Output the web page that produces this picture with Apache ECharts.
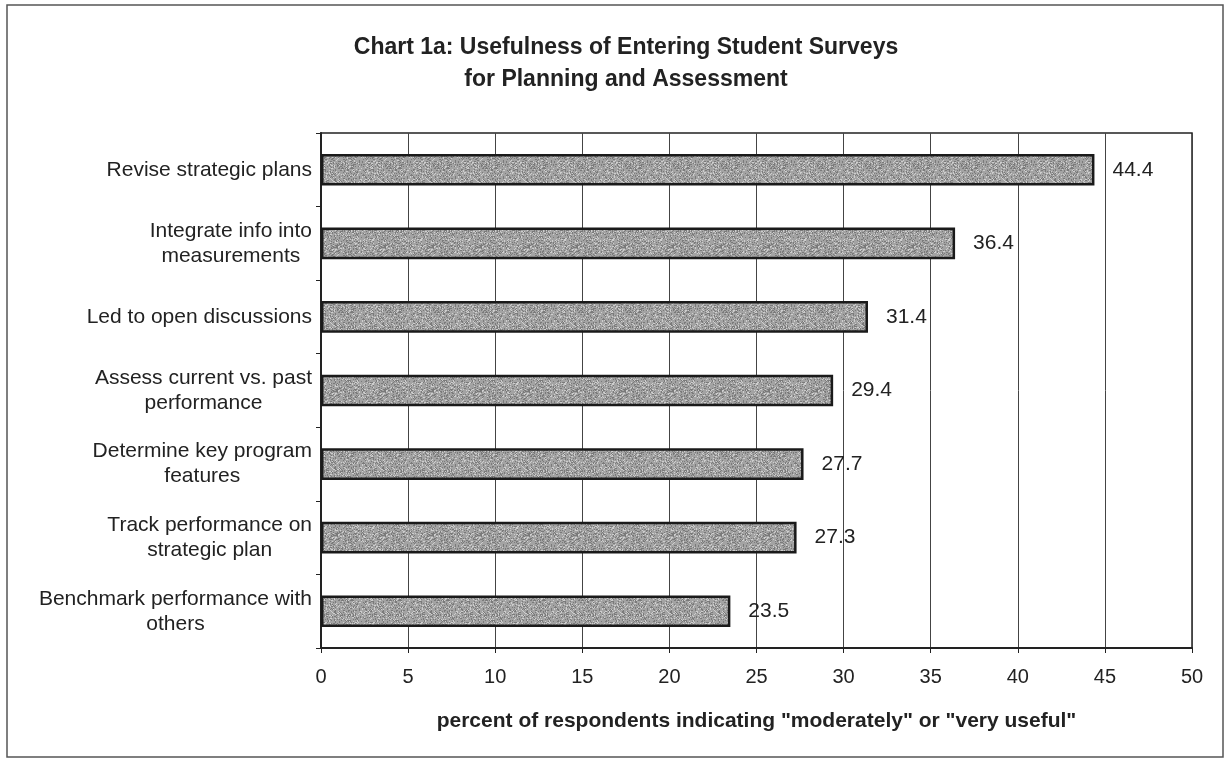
<!DOCTYPE html>
<html>
<head>
<meta charset="utf-8">
<script src="https://cdn.jsdelivr.net/npm/echarts@6/dist/echarts.min.js"></script>
<style>
  html, body { margin: 0; padding: 0; background: #ffffff; }
  #chart { width: 1228px; height: 761px; }
</style>
</head>
<body>
<div id="chart"></div>
<script>
// Survey items, listed bottom to top as the category axis draws them
const categories = [
  'Benchmark performance with\nothers',
  'Track performance on\nstrategic plan',
  'Determine key program\nfeatures',
  'Assess current vs. past\nperformance',
  'Led to open discussions',
  'Integrate info into\nmeasurements',
  'Revise strategic plans'
];
// Percent of respondents rating each use "moderately" or "very useful"
const percentUseful = [23.5, 27.3, 27.7, 29.4, 31.4, 36.4, 44.4];
// Value axis ticks
const xTicks = [0, 5, 10, 15, 20, 25, 30, 35, 40, 45, 50];

const titleLines = ['Chart 1a: Usefulness of Entering Student Surveys', 'for Planning and Assessment'];
const axisTitle = 'percent of respondents indicating "moderately" or "very useful"';

// Stippled grey fill for the bars, built once on a small tile
function stippleTile() {
  const c = document.createElement('canvas');
  c.width = 48; c.height = 48;
  const g = c.getContext('2d');
  g.fillStyle = '#a3a3a3';
  g.fillRect(0, 0, 48, 48);
  for (let y = 0; y < 48; y++) {
    for (let x = 0; x < 48; x++) {
      const h = Math.abs(Math.sin(x * 12.9898 + y * 78.233) * 43758.5453) % 1;
      if (h < 0.22) { g.fillStyle = 'rgba(90,90,90,0.55)'; g.fillRect(x, y, 1, 1); }
      else if (h > 0.86) { g.fillStyle = 'rgba(235,235,235,0.6)'; g.fillRect(x, y, 1, 1); }
    }
  }
  return c;
}

const chart = echarts.init(document.getElementById('chart'), null, { renderer: 'canvas' });

const font = 'Liberation Sans, Arial, sans-serif';

chart.setOption({
  animation: false,
  backgroundColor: '#ffffff',
  title: {
    text: titleLines.join('\n'),
    left: 621,
    textAlign: 'center',
    top: 27,
    textStyle: {
      fontFamily: font,
      fontSize: 23,
      fontWeight: 'bold',
      color: '#222',
      lineHeight: 32
    }
  },
  graphic: [{
    type: 'rect',
    shape: { x: 7, y: 5, width: 1216, height: 752 },
    style: { fill: 'none', stroke: '#555', lineWidth: 1.5 },
    silent: true,
    z: -1
  }],
  grid: {
    left: 321,
    right: 36,
    top: 133,
    bottom: 113,
    show: true,
    borderColor: '#222',
    borderWidth: 1.5,
    backgroundColor: 'transparent'
  },
  xAxis: {
    type: 'value',
    min: xTicks[0],
    max: xTicks[xTicks.length - 1],
    interval: xTicks[1] - xTicks[0],
    name: axisTitle,
    nameLocation: 'middle',
    nameGap: 63,
    nameTextStyle: {
      fontFamily: font,
      fontSize: 21,
      fontWeight: 'bold',
      color: '#222'
    },
    axisLine: { show: true, lineStyle: { color: '#222', width: 2 } },
    axisTick: { show: true, length: 5, lineStyle: { color: '#222', width: 1 } },
    axisLabel: {
      fontFamily: font,
      fontSize: 20,
      color: '#222',
      margin: 19
    },
    splitLine: { show: true, lineStyle: { color: '#444', width: 1 } }
  },
  yAxis: {
    type: 'category',
    data: categories,
    axisLine: { show: true, lineStyle: { color: '#222', width: 2 } },
    axisTick: { show: true, length: 5, inside: false, alignWithLabel: false, lineStyle: { color: '#222', width: 1 } },
    axisLabel: {
      fontFamily: font,
      fontSize: 21,
      color: '#222',
      margin: 9,
      lineHeight: 25,
      formatter: function (v) {
        return v.split('\n').map(function (l) { return '{c|' + l + '}'; }).join('\n');
      },
      rich: {
        c: { align: 'center', fontFamily: font, fontSize: 21, color: '#222', lineHeight: 25 }
      }
    },
    splitLine: { show: false }
  },
  series: [{
    type: 'bar',
    data: percentUseful,
    barCategoryGap: '57%',
    itemStyle: {
      color: { image: stippleTile(), repeat: 'repeat' },
      borderColor: '#1a1a1a',
      borderWidth: 2.5
    },
    label: {
      show: true,
      position: 'right',
      distance: 18,
      fontFamily: font,
      fontSize: 21,
      color: '#222',
      formatter: function (p) { return p.value.toFixed(1); }
    }
  }]
});
</script>
</body>
</html>
